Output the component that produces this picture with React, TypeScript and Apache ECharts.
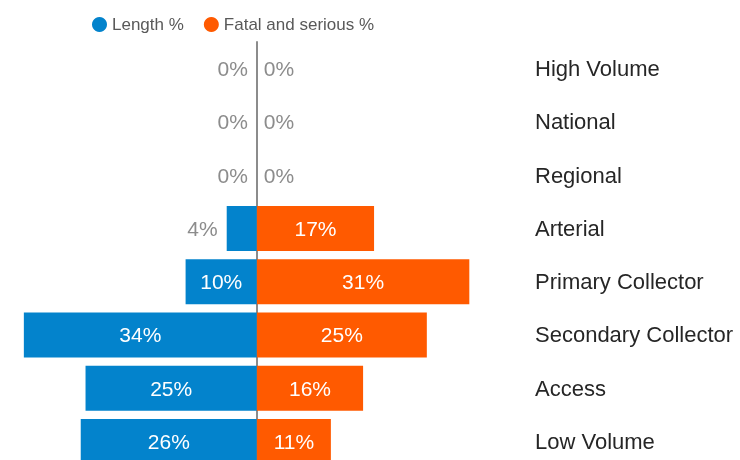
import React, { useEffect, useRef } from "react";
import * as echarts from "echarts";

const categories = [
  "High Volume",
  "National",
  "Regional",
  "Arterial",
  "Primary Collector",
  "Secondary Collector",
  "Access",
  "Low Volume",
];
const lengthPct = [0, 0, 0, 4.4, 10.4, 34, 25, 25.7];
const fatalPct = [0, 0, 0, 17.1, 31, 24.8, 15.5, 10.8];

const BLUE = "#0383cc";
const ORANGE = "#ff5a00";
const GREY = "#8c8c8c";

export default function App() {
  const ref = useRef<HTMLDivElement>(null);
  useEffect(() => {
    if (!ref.current) return;
    const chart = echarts.init(ref.current, null, { renderer: "svg" });
    const fmt = (p: any) => Math.round(Math.abs(p.value)) + "%";
    chart.setOption({
      animation: false,
      textStyle: { fontFamily: "Liberation Sans, Arial, sans-serif" },
      legend: {
        left: 87,
        top: 11,
        icon: "circle",
        itemWidth: 15,
        itemHeight: 15,
        itemGap: 20,
        textStyle: { fontSize: 17, color: "#595959" },
        data: ["Length %", "Fatal and serious %"],
      },
      grid: { left: 17, right: 209, top: 42, bottom: 12, containLabel: false },
      xAxis: {
        type: "value",
        min: -35,
        max: 40,
        show: false,
      },
      yAxis: [
        {
          type: "category",
          data: categories,
          inverse: true,
          axisLine: { onZero: true, lineStyle: { color: "#8c8c8c", width: 2 } },
          axisTick: { show: false },
          axisLabel: { show: false },
        },
        {
          type: "category",
          data: categories,
          inverse: true,
          position: "right",
          axisLine: { show: false },
          axisTick: { show: false },
          axisLabel: {
            align: "left",
            margin: 4,
            fontSize: 22,
            lineHeight: 22,
            padding: [0, 0, 3, 0],
            color: "#262626",
          },
        },
      ],
      series: [
        {
          name: "Length %",
          type: "bar",
          barWidth: 45,
          barGap: "-100%",
          itemStyle: { color: BLUE },
          data: lengthPct.map((v) => ({
            value: -v,
            label:
              v < 6
                ? { show: true, position: "left", distance: 9, color: GREY }
                : { show: true, position: "inside", color: "#fff" },
          })),
          label: { show: true, formatter: fmt, fontSize: 21, padding: [0, 0, 3, 0] },
        },
        {
          name: "Fatal and serious %",
          type: "bar",
          barWidth: 45,
          barGap: "-100%",
          itemStyle: { color: ORANGE },
          data: fatalPct.map((v) => ({
            value: v,
            label:
              v < 6
                ? { show: true, position: "right", distance: 7, color: GREY }
                : { show: true, position: "inside", color: "#fff" },
          })),
          label: { show: true, formatter: fmt, fontSize: 21, padding: [0, 0, 3, 0] },
        },
      ],
    });
    return () => chart.dispose();
  }, []);
  return (
    <div
      ref={ref}
      style={{ position: "fixed", left: 0, top: 0, width: 740, height: 480 }}
    />
  );
}
